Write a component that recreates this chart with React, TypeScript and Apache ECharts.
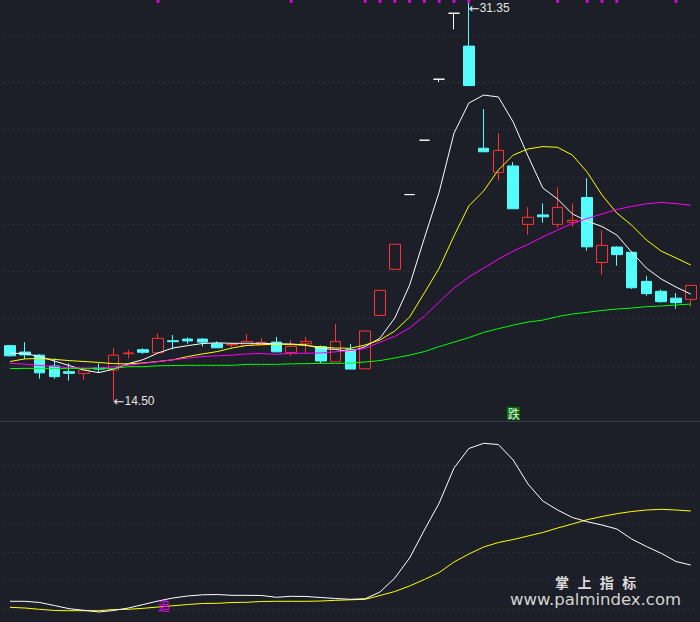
import React, { useEffect, useRef } from 'react';
import * as echarts from 'echarts';

const categories = Array.from({ length: 47 }, (_, i) => `K${i + 1}`);

const opens = [16.86, 16.59, 16.46, 16.0, 15.76, 15.69, 15.91, 15.83, 16.52, 16.69,
  16.56, 17.07, 17.14, 17.14, 16.94, 16.89, 16.87, 16.9, 17.01, 16.56,
  16.94, 16.82, 16.18, 16.7, 15.88, 18.14, 20.09, 23.25, 25.55, 28.13,
  30.92, 29.53, 25.21, 24.19, 24.46, 21.99, 22.39, 21.99, 22.08, 23.13,
  20.38, 21.03, 20.81, 19.58, 19.16, 18.87, 18.82];
const closes = [16.43, 16.47, 15.71, 15.55, 15.69, 15.83, 15.87, 16.46, 16.55, 16.58,
  17.17, 17.03, 17.06, 17.01, 16.77, 16.91, 17.04, 17.0, 16.6, 16.83,
  17.04, 16.21, 17.04, 15.87, 17.48, 19.2, 21.15, 23.25, 25.55, 28.13,
  30.92, 27.86, 25.06, 25.12, 22.65, 22.29, 22.31, 22.71, 22.16, 21.04,
  21.1, 20.71, 19.31, 19.06, 18.72, 18.68, 19.41];
const lows = [16.39, 16.29, 15.46, 15.46, 15.38, 15.41, 15.72, 14.5, 16.32, 16.51,
  16.56, 16.7, 16.94, 16.82, 16.77, 16.77, 16.87, 16.9, 16.6, 16.43,
  16.54, 16.11, 16.18, 15.87, 15.88, 18.14, 20.09, 23.25, 25.55, 28.01,
  30.24, 27.86, 25.06, 23.84, 22.65, 21.55, 22.06, 21.85, 21.89, 20.88,
  19.86, 20.24, 19.26, 18.97, 18.68, 18.42, 18.51];
const highs = [16.9, 17.01, 16.5, 16.32, 16.11, 15.85, 16.11, 16.76, 16.68, 16.75,
  17.38, 17.31, 17.21, 17.18, 17.04, 16.97, 17.35, 17.17, 17.23, 17.1,
  17.23, 16.87, 17.78, 16.93, 17.48, 19.2, 21.15, 23.25, 25.55, 28.13,
  30.92, 31.35, 26.87, 25.85, 24.63, 22.72, 22.88, 23.56, 22.88, 23.94,
  21.75, 21.07, 20.81, 19.81, 19.24, 19.09, 19.41];

const ma5 = [16.54, 16.53, 16.4, 16.21, 16.02, 15.83, 15.72, 15.87, 16.1, 16.27,
  16.55, 16.76, 16.86, 16.95, 16.98, 16.96, 16.96, 16.96, 16.94, 16.93,
  16.89, 16.74, 16.7, 16.61, 16.82, 17.18, 18.03, 19.42, 21.41, 23.36,
  25.85, 27.12, 27.46, 27.38, 26.32, 24.88, 23.53, 23.06, 22.43, 22.13,
  21.9, 21.54, 20.82, 20.14, 19.68, 19.34, 19.04];
const ma10 = [16.19, 16.3, 16.32, 16.28, 16.23, 16.19, 16.15, 16.1, 16.09, 16.13,
  16.19, 16.26, 16.4, 16.51, 16.61, 16.76, 16.87, 16.9, 16.92, 16.91,
  16.87, 16.8, 16.76, 16.75, 16.89, 17.1, 17.48, 18.07, 19.09, 20.14,
  21.5, 22.77, 23.4, 24.29, 24.92, 25.18, 25.28, 25.25, 24.92, 24.2,
  23.23, 22.47, 21.96, 21.33, 20.86, 20.57, 20.27];
const ma20 = [16.11, 16.08, 16.02, 15.99, 15.93, 15.91, 15.91, 15.97, 16.03, 16.11,
  16.19, 16.26, 16.33, 16.4, 16.43, 16.46, 16.51, 16.53, 16.49, 16.54,
  16.54, 16.55, 16.6, 16.65, 16.74, 17.01, 17.25, 17.61, 18.11, 18.71,
  19.3, 19.76, 20.14, 20.52, 20.86, 21.14, 21.46, 21.75, 22.03, 22.24,
  22.43, 22.62, 22.75, 22.86, 22.92, 22.87, 22.8];
const ma60 = [15.89, 15.9, 15.9, 15.9, 15.9, 15.9, 15.9, 15.9, 15.97, 15.97,
  16.01, 16.02, 16.03, 16.03, 16.03, 16.03, 16.07, 16.07, 16.07, 16.09,
  16.1, 16.11, 16.11, 16.12, 16.17, 16.23, 16.34, 16.46, 16.61, 16.82,
  17.01, 17.2, 17.42, 17.58, 17.73, 17.86, 17.94, 18.09, 18.2, 18.27,
  18.35, 18.41, 18.45, 18.51, 18.54, 18.58, 18.62];

const indWhite = [2.79, 2.79, 2.37, 1.32, 0.21, -0.35, -0.94, -0.42, 0.45, 1.67,
  2.89, 3.93, 4.63, 5.05, 5.15, 4.87, 4.87, 4.81, 4.18, 4.53,
  4.46, 4.11, 3.76, 3.48, 3.69, 6.02, 10.9, 17.86, 27.61, 37.01,
  49.2, 55.99, 57.8, 57.38, 51.98, 43.63, 37.71, 34.58, 31.96, 30.5,
  29.35, 27.96, 24.48, 21.87, 19.5, 16.64, 15.42];
const indYellow = [0.7, 0.45, 0.0, -0.42, -0.49, -0.49, -0.49, -0.07, 0.0, 0.35,
  0.8, 1.22, 1.67, 2.02, 2.09, 2.37, 2.44, 2.72, 2.79, 2.79,
  2.79, 2.89, 3.13, 3.31, 3.48, 4.81, 6.2, 8.11, 10.38, 12.81,
  16.47, 19.25, 21.69, 23.26, 24.3, 25.52, 26.74, 28.31, 29.7, 31.2,
  32.31, 33.29, 34.05, 34.57, 34.82, 34.57, 34.23];

const priceTicks = [16, 18, 20, 22, 24, 26, 28, 30];
const indTicks = [0, 10, 20, 30, 40, 50];
const signalIdx = [10, 19, 24, 25, 26, 27, 28, 29, 30, 31, 37, 39, 40, 41, 45];
const signalLevel = 31.42;
const fallMark = { idx: 34, value: 14.0, text: '跌' };
const chaseMark = { idx: 10, value: 1.3, text: '追' };

const BG = '#1c1f27';
const RED = '#ff3232';
const CYAN = '#54fcfc';
const GRID = '#2f333c';

export default function App() {
  const ref = useRef<HTMLDivElement>(null);
  useEffect(() => {
    if (!ref.current) return;
    const chart = echarts.init(ref.current, undefined, { renderer: 'svg' });
    const hiIdx = highs.indexOf(Math.max(...highs));
    const loIdx = lows.indexOf(Math.min(...lows));
    const candleData = opens.map((o, i) => {
      const v = [o, closes[i], lows[i], highs[i]];
      if (o === closes[i]) {
        return { value: v, itemStyle: { color: '#ffffff', color0: '#ffffff', borderColor: '#ffffff', borderColor0: '#ffffff', borderColorDoji: '#ffffff' } };
      }
      return v;
    });
    const numLabel = {
      show: true, position: [0, 0], align: 'left', verticalAlign: 'middle',
      color: '#e6e6e6', fontSize: 12, fontFamily: "'Liberation Sans', Arial, sans-serif",
      rich: { a: { fontFamily: "'DejaVu Sans', sans-serif", fontSize: 13, color: '#e6e6e6' } },
    };
    const lineS = (data: number[], color: string, xi: number, z = 3) => ({
      type: 'line', data, xAxisIndex: xi, yAxisIndex: xi, symbol: 'none', silent: true,
      lineStyle: { color, width: 1 }, z,
    });
    const option: any = {
      animation: false,
      backgroundColor: BG,
      grid: [
        { left: 2.6, top: 0, width: 695.6, height: 421 },
        { left: 2.6, top: 422, width: 695.6, height: 200 },
      ],
      xAxis: [
        { type: 'category', data: categories, gridIndex: 0, show: false, boundaryGap: true },
        { type: 'category', data: categories, gridIndex: 1, show: false, boundaryGap: true },
      ],
      yAxis: [
        { type: 'value', gridIndex: 0, min: 13.674, max: 31.48, show: false, splitLine: { show: false } },
        { type: 'value', gridIndex: 1, min: -4.42, max: 65.22, show: false, splitLine: { show: false } },
      ],
      series: [
        {
          type: 'line', data: [], xAxisIndex: 0, yAxisIndex: 0, z: 1, silent: true,
          markLine: {
            silent: true, symbol: 'none', z: 1, label: { show: false },
            lineStyle: { color: GRID, type: [2, 3], width: 1 },
            data: priceTicks.map((v) => ({ yAxis: v })),
          },
        },
        {
          type: 'line', data: [], xAxisIndex: 1, yAxisIndex: 1, z: 1, silent: true,
          markLine: {
            silent: true, symbol: 'none', z: 1, label: { show: false },
            lineStyle: { color: GRID, type: [2, 3], width: 1 },
            data: indTicks.map((v) => ({ yAxis: v })),
          },
        },
        {
          type: 'candlestick', xAxisIndex: 0, yAxisIndex: 0, barWidth: 11, silent: true, z: 2,
          data: candleData,
          itemStyle: { color: BG, color0: CYAN, borderColor: RED, borderColor0: CYAN, borderColorDoji: '#ffffff', borderWidth: 1 },
          markPoint: {
            symbol: 'circle', symbolSize: 0, silent: true, z: 6,
            data: [
              { coord: [hiIdx, highs[hiIdx]], label: { ...numLabel, offset: [0, 5], formatter: '{a|←}' + highs[hiIdx].toFixed(2) } },
              { coord: [loIdx, lows[loIdx]], label: { ...numLabel, formatter: '{a|←}' + lows[loIdx].toFixed(2) } },
              {
                coord: [fallMark.idx, fallMark.value],
                label: {
                  show: true, position: [0, 0], align: 'center', verticalAlign: 'middle', formatter: fallMark.text,
                  backgroundColor: '#006c00', color: '#f0f0f0', fontSize: 12, lineHeight: 12, padding: [1, 0, 0, 1],
                  fontFamily: "'Noto Sans CJK SC', sans-serif",
                },
              },
            ],
          },
        },
        lineS(ma5, '#ffffff', 0),
        lineS(ma10, '#ffff00', 0),
        lineS(ma20, '#ff00ff', 0),
        lineS(ma60, '#00ff00', 0),
        {
          type: 'scatter', xAxisIndex: 0, yAxisIndex: 0, silent: true, z: 4,
          symbol: 'rect', symbolSize: 3, itemStyle: { color: '#ff00ff' },
          data: signalIdx.map((i) => [i, signalLevel]),
        },
        lineS(indYellow, '#ffff00', 1),
        {
          ...lineS(indWhite, '#ffffff', 1, 4),
          markPoint: {
            symbol: 'circle', symbolSize: 0, silent: true, z: 6,
            data: [
              {
                coord: [chaseMark.idx, chaseMark.value],
                label: {
                  show: true, position: [0, 0], align: 'left', verticalAlign: 'middle', formatter: chaseMark.text,
                  color: '#ff00ff', fontSize: 12, lineHeight: 12, fontFamily: "'Noto Sans CJK SC', sans-serif",
                },
              },
            ],
          },
        },
      ],
      graphic: [
        { type: 'line', silent: true, z: 10, shape: { x1: 0, y1: 421.5, x2: 700, y2: 421.5 }, style: { stroke: '#3b3f48', lineWidth: 1 } },
        {
          type: 'text', silent: true, z: 10, x: 555, y: 582.5,
          style: {
            text: '掌 上 指 标', fill: '#dcdcdc', fontSize: 14, lineHeight: 14, fontWeight: 'bold',
            fontFamily: "'DejaVu Sans Mono', 'Noto Sans CJK SC', sans-serif",
            align: 'left', verticalAlign: 'middle', textAlign: 'left', textVerticalAlign: 'middle',
          },
        },
        {
          type: 'text', silent: true, z: 10, x: 510, y: 599.5,
          style: {
            text: 'www.palmindex.com', fill: '#d4d4d4', fontSize: 16.5, lineHeight: 16,
            fontFamily: "'DejaVu Sans', sans-serif",
            align: 'left', verticalAlign: 'middle', textAlign: 'left', textVerticalAlign: 'middle',
          },
        },
      ],
    };
    chart.setOption(option);
    return () => chart.dispose();
  }, []);
  return (
    <div
      ref={ref}
      style={{ position: 'fixed', left: 0, top: 0, width: 700, height: 622, background: BG }}
    />
  );
}
